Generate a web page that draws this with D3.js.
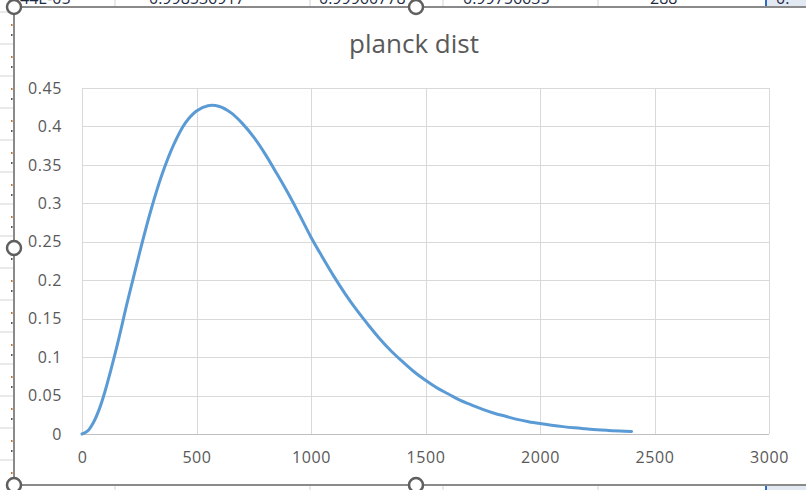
<!DOCTYPE html>
<html lang="en">
<head>
<meta charset="UTF-8">
<title>planck dist</title>
<style>
  body { margin: 0; background: #fff; }
  svg { display: block; }
  text { font-family: "Open Sans", "Noto Sans", sans-serif; }
</style>
</head>
<body>
<div id="target"></div>
<script src="https://d3js.org/d3.v7.min.js"></script>
<script>
// series
const xValues = [0, 25, 50, 75, 100, 150, 200, 250, 300, 350, 400, 450, 500, 550, 600, 650, 700, 750, 800, 850, 900, 950,
  1000, 1050, 1100, 1150, 1200, 1250, 1300, 1350, 1400, 1450, 1500, 1550, 1600, 1650, 1700, 1750, 1800, 1850, 1900,
  1950, 2000, 2050, 2100, 2150, 2200, 2250, 2300, 2350, 2400];
const yValues = [0, 0.004, 0.015, 0.032, 0.055, 0.111, 0.174, 0.234, 0.290, 0.338, 0.376, 0.404, 0.420, 0.427, 0.426, 0.418, 0.404, 0.386, 0.364, 0.339, 0.313, 0.285,
  0.256, 0.230, 0.205, 0.182, 0.161, 0.142, 0.124, 0.108, 0.094, 0.081, 0.070, 0.060, 0.052, 0.044, 0.038, 0.032, 0.027, 0.023, 0.019,
  0.016, 0.0136, 0.0115, 0.0096, 0.008, 0.0067, 0.0055, 0.0046, 0.0038, 0.0032];
const xTicks = [0, 500, 1000, 1500, 2000, 2500, 3000];
const yTicks = [0, 0.05, 0.1, 0.15, 0.2, 0.25, 0.3, 0.35, 0.4, 0.45];
// spreadsheet cells peeking out above the chart
const cellTexts = ["44E-05", "0.998536917", "0.99960778", "0.99756635", "288", "0."];
const cellX = [20, 149, 319, 463, 650, 776];
const colLines = [115, 310, 443, 598];

const width = 806, height = 490;
const svg = d3.select("#target").append("svg")
  .attr("width", width).attr("height", height);

// --- spreadsheet background ---
svg.append("rect").attr("width", width).attr("height", height).attr("fill", "#fff");
svg.append("rect").attr("x", 766).attr("y", 0).attr("width", 40).attr("height", 7).attr("fill", "#e3e9f2");
svg.append("rect").attr("x", 766).attr("y", 485).attr("width", 40).attr("height", 5).attr("fill", "#e3e9f2");
const bg = svg.append("g");
colLines.forEach(x => {
  bg.append("line").attr("x1", x).attr("x2", x).attr("y1", 0).attr("y2", 7).attr("stroke", "#d4d4d4");
  bg.append("line").attr("x1", x).attr("x2", x).attr("y1", 485).attr("y2", 490).attr("stroke", "#d4d4d4");
});
bg.append("line").attr("x1", 766).attr("x2", 766).attr("y1", 0).attr("y2", 7).attr("stroke", "#2b6cc4").attr("stroke-width", 2);
bg.append("line").attr("x1", 766).attr("x2", 766).attr("y1", 485).attr("y2", 490).attr("stroke", "#2b6cc4").attr("stroke-width", 2);
bg.selectAll("text.cell").data(cellTexts).join("text")
  .attr("class", "cell")
  .attr("x", (d, i) => cellX[i]).attr("y", 4)
  .attr("font-size", 16).attr("fill", "#1c2a44")
  .text(d => d);
// left column rows with little orange marks
d3.range(12, 485, 32).forEach(y => {
  bg.append("line").attr("x1", 0).attr("x2", 13).attr("y1", y).attr("y2", y).attr("stroke", "#d4d4d4");
  bg.append("rect").attr("x", 11).attr("y", y + 12).attr("width", 1.5).attr("height", 2).attr("fill", "#c0702a");
  bg.append("rect").attr("x", 11).attr("y", y + 22).attr("width", 1.5).attr("height", 2).attr("fill", "#555");
});

// --- chart area ---
svg.append("rect").attr("x", 14).attr("y", 7).attr("width", width - 14).attr("height", 478).attr("fill", "#fff");
svg.append("path")
  .attr("d", `M${width},7 H14 V485 H${width}`)
  .attr("fill", "none").attr("stroke", "#8a8a8a").attr("stroke-width", 2);

const x = d3.scaleLinear().domain([0, 3000]).range([82, 769]);
const y = d3.scaleLinear().domain([0, 0.45]).range([434, 88]);

const grid = svg.append("g");
grid.selectAll("line.h").data(yTicks.slice(1)).join("line")
  .attr("class", "h")
  .attr("x1", x(0)).attr("x2", x(3000))
  .attr("y1", d => Math.round(y(d)) + 0.5).attr("y2", d => Math.round(y(d)) + 0.5)
  .attr("stroke", "#d9d9d9");
grid.selectAll("line.v").data(xTicks).join("line")
  .attr("class", "v")
  .attr("y1", y(0)).attr("y2", y(0.45))
  .attr("x1", d => Math.round(x(d)) + 0.5).attr("x2", d => Math.round(x(d)) + 0.5)
  .attr("stroke", "#d9d9d9");
grid.append("line")
  .attr("x1", x(0)).attr("x2", x(3000))
  .attr("y1", Math.round(y(0)) + 0.5).attr("y2", Math.round(y(0)) + 0.5)
  .attr("stroke", "#bfbfbf");

// axes (labels only, Excel style)
const yAxis = d3.axisLeft(y).tickValues(yTicks).tickSize(0).tickPadding(20).tickFormat(d3.format("~g"));
svg.append("g").attr("transform", `translate(${x(0)},0)`).call(yAxis)
  .call(g => g.select(".domain").remove())
  .call(g => g.selectAll("text").attr("font-size", 16).attr("fill", "#595959")
    .attr("letter-spacing", 0.6)
    .attr("font-family", "\"Open Sans\", sans-serif"));

const xAxis = d3.axisBottom(x).tickValues(xTicks).tickSize(0).tickPadding(18).tickFormat(d3.format("d"));
svg.append("g").attr("transform", `translate(0,${y(0)})`).call(xAxis)
  .call(g => g.select(".domain").remove())
  .call(g => g.selectAll("text").attr("font-size", 16).attr("fill", "#595959")
    .attr("letter-spacing", 0.6)
    .attr("font-family", "\"Open Sans\", sans-serif"));

// the series
const points = xValues.map((v, i) => [v, yValues[i]]);
const line = d3.line().x(d => x(d[0])).y(d => y(d[1])).curve(d3.curveCatmullRom.alpha(0.5));
svg.append("path").datum(points)
  .attr("d", line)
  .attr("fill", "none")
  .attr("stroke", "#5b9bd5")
  .attr("stroke-width", 3)
  .attr("stroke-linejoin", "round")
  .attr("stroke-linecap", "round");

// title
svg.append("text")
  .attr("x", 414).attr("y", 53)
  .attr("text-anchor", "middle")
  .attr("font-size", 26).attr("fill", "#595959")
  .text("planck dist");

// selection handles
const handles = [[14, 7], [416, 7], [14, 248], [14, 485], [416, 485]];
svg.selectAll("circle.handle").data(handles).join("circle")
  .attr("class", "handle")
  .attr("cx", d => d[0]).attr("cy", d => d[1]).attr("r", 7)
  .attr("fill", "#fff").attr("stroke", "#5f5f5f").attr("stroke-width", 2.5);
</script>
</body>
</html>
